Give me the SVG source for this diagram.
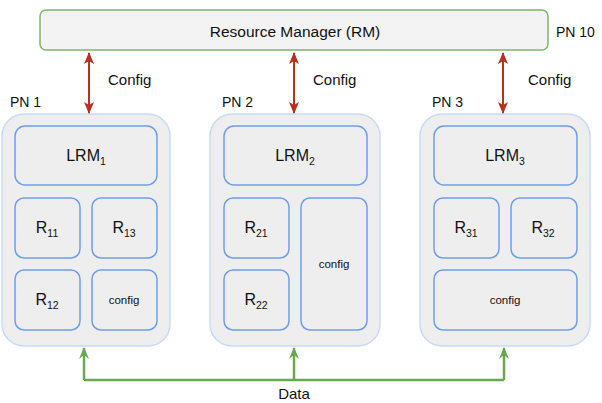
<svg xmlns="http://www.w3.org/2000/svg" width="602" height="403" viewBox="0 0 602 403">
<defs>
<style>
text{font-family:"Liberation Sans",Arial,sans-serif;fill:#111;}
.pn{fill:#eeeeee;stroke:#c9daf8;stroke-width:1.5;}
.bx{fill:#eeeeee;stroke:#6d9eeb;stroke-width:1.5;}
.rm{fill:#f3f3f3;stroke:#82b366;stroke-width:1.5;}
.lab{font-size:14px;}
.cf{font-size:15px;}
.big{font-size:16px;text-anchor:middle;}
.sm{font-size:11.5px;text-anchor:middle;}
.sub{font-size:10.5px;}
.red{stroke:#b5321f;stroke-width:2;fill:none;}
.grn{stroke:#6aa84f;stroke-width:2.5;fill:none;}
</style>
<marker id="ar" viewBox="0 0 12 10" refX="11" refY="5" markerWidth="6" markerHeight="5" orient="auto-start-reverse" markerUnits="strokeWidth">
<path d="M0,0 L12,5 L0,10 L3,5 Z" fill="#b5321f"/>
</marker>
<marker id="ag" viewBox="0 0 12 10" refX="11" refY="5" markerWidth="4.8" markerHeight="4" orient="auto" markerUnits="strokeWidth">
<path d="M0,0 L12,5 L0,10 L4,5 Z" fill="#6aa84f"/>
</marker>
</defs>

<g id="rm">
<rect class="rm" x="40" y="10" width="508" height="40" rx="6"/>
<text x="295" y="37" text-anchor="middle" font-size="15.5">Resource Manager (RM)</text>
<text class="lab" x="556" y="37">PN 10</text>
</g>

<g id="pn1">
<text class="lab" x="10" y="107">PN 1</text>
<rect class="pn" x="2" y="114" width="168" height="232" rx="22"/>
<g id="lrm1"><rect class="bx" x="15" y="126" width="142" height="59" rx="10"/><text class="big" x="86" y="161">LRM<tspan class="sub" dy="4">1</tspan></text></g>
<g id="r11"><rect class="bx" x="15" y="198" width="65" height="60" rx="9"/><text class="big" x="47" y="233">R<tspan class="sub" dy="4">11</tspan></text></g>
<g id="r13"><rect class="bx" x="92" y="198" width="65" height="60" rx="9"/><text class="big" x="124" y="233">R<tspan class="sub" dy="4">13</tspan></text></g>
<g id="r12"><rect class="bx" x="15" y="270" width="65" height="60" rx="9"/><text class="big" x="47" y="305">R<tspan class="sub" dy="4">12</tspan></text></g>
<g id="cfg1"><rect class="bx" x="92" y="270" width="65" height="60" rx="9"/><text class="sm" x="124" y="304">config</text></g>
</g>

<g id="pn2">
<text class="lab" x="222" y="107">PN 2</text>
<rect class="pn" x="210" y="114" width="170" height="232" rx="22"/>
<g id="lrm2"><rect class="bx" x="224" y="126" width="143" height="59" rx="10"/><text class="big" x="295" y="161">LRM<tspan class="sub" dy="4">2</tspan></text></g>
<g id="r21"><rect class="bx" x="224" y="198" width="65" height="60" rx="9"/><text class="big" x="256" y="233">R<tspan class="sub" dy="4">21</tspan></text></g>
<g id="r22"><rect class="bx" x="224" y="270" width="65" height="60" rx="9"/><text class="big" x="256" y="305">R<tspan class="sub" dy="4">22</tspan></text></g>
<g id="cfg2"><rect class="bx" x="301" y="198" width="66" height="132" rx="9"/><text class="sm" x="334" y="268">config</text></g>
</g>

<g id="pn3">
<text class="lab" x="432" y="107">PN 3</text>
<rect class="pn" x="420" y="114" width="170" height="232" rx="22"/>
<g id="lrm3"><rect class="bx" x="434" y="126" width="143" height="59" rx="10"/><text class="big" x="505" y="161">LRM<tspan class="sub" dy="4">3</tspan></text></g>
<g id="r31"><rect class="bx" x="434" y="198" width="65" height="60" rx="9"/><text class="big" x="466" y="233">R<tspan class="sub" dy="4">31</tspan></text></g>
<g id="r32"><rect class="bx" x="511" y="198" width="66" height="60" rx="9"/><text class="big" x="543" y="233">R<tspan class="sub" dy="4">32</tspan></text></g>
<g id="cfg3"><rect class="bx" x="434" y="270" width="143" height="60" rx="9"/><text class="sm" x="505" y="304">config</text></g>
</g>

<g id="connectors">
<line class="red" x1="89" y1="53" x2="89" y2="113" marker-start="url(#ar)" marker-end="url(#ar)"/>
<line class="red" x1="294" y1="53" x2="294" y2="113" marker-start="url(#ar)" marker-end="url(#ar)"/>
<line class="red" x1="503" y1="53" x2="503" y2="113" marker-start="url(#ar)" marker-end="url(#ar)"/>
<text class="cf" x="108" y="85">Config</text>
<text class="cf" x="313" y="85">Config</text>
<text class="cf" x="528" y="85">Config</text>
<path class="grn" d="M84,380 H504"/>
<line class="grn" x1="84" y1="380" x2="84" y2="348" marker-end="url(#ag)"/>
<line class="grn" x1="294" y1="380" x2="294" y2="348" marker-end="url(#ag)"/>
<line class="grn" x1="504" y1="380" x2="504" y2="348" marker-end="url(#ag)"/>
<text class="cf" x="294" y="399" text-anchor="middle">Data</text>
</g>
</svg>
